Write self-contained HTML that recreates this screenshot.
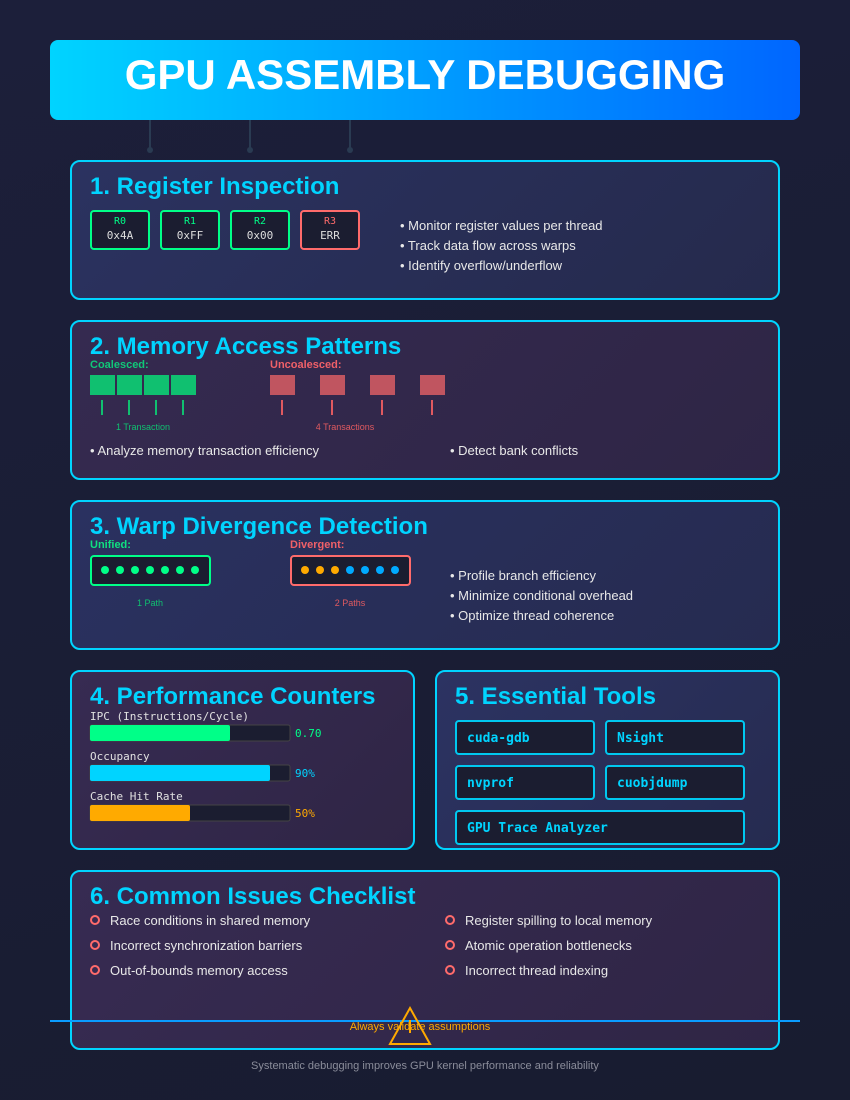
<!DOCTYPE html>
<html><head><meta charset="utf-8"><style>
*{margin:0;padding:0;box-sizing:border-box}
body{width:850px;height:1100px;background:linear-gradient(160deg,#1c1f3a,#181c30);font-family:"Liberation Sans",sans-serif;position:relative;overflow:hidden;color:#e0e0e0}
.a{position:absolute}
.box{position:absolute;border:2px solid #00d4ff;border-radius:10px}
.t{position:absolute;font-weight:bold;font-size:24px;color:#00d4ff;white-space:nowrap}
.b{position:absolute;font-size:13px;color:#e8e8e8;white-space:nowrap}
.reg{position:absolute;top:210px;width:60px;height:40px;border:2px solid #00ff88;border-radius:4px;background:#1b1d30;text-align:center;font-family:"DejaVu Sans Mono",monospace}
.reg .l{font-size:10px;color:#00ff88;margin-top:4px}
.reg .v{font-size:11px;color:#ddd;margin-top:2px}
.tool{position:absolute;border:2px solid #00c8f0;border-radius:4px;background:#1b1d30;color:#00d4ff;font-family:"DejaVu Sans Mono",monospace;font-weight:bold;font-size:13px;padding:9px 0 0 10px;height:35px}
</style></head><body>
<div class="a" style="left:50px;top:40px;width:750px;height:80px;border-radius:8px;background:linear-gradient(90deg,#00d4ff,#0066ff)"></div>
<div class="a" style="left:50px;top:51px;width:750px;text-align:center;font-size:42px;font-weight:bold;color:#fff">GPU ASSEMBLY DEBUGGING</div>
<svg class="a" style="left:0;top:0" width="850" height="1100">
<g stroke="#2a3b52" stroke-width="2"><line x1="150" y1="120" x2="150" y2="150"/><line x1="250" y1="120" x2="250" y2="150"/><line x1="350" y1="120" x2="350" y2="150"/></g>
<g fill="#2a3b52"><circle cx="150" cy="150" r="3"/><circle cx="250" cy="150" r="3"/><circle cx="350" cy="150" r="3"/></g>
</svg>

<div class="box" style="left:70px;top:160px;width:710px;height:140px;background:linear-gradient(135deg,#2b3260,#252a4c)"></div>
<div class="t" style="left:90px;top:173px">1. Register Inspection</div>
<div class="reg" style="left:90px"><div class="l">R0</div><div class="v">0x4A</div></div>
<div class="reg" style="left:160px"><div class="l">R1</div><div class="v">0xFF</div></div>
<div class="reg" style="left:230px"><div class="l">R2</div><div class="v">0x00</div></div>
<div class="reg" style="left:300px;border-color:#ff6b6b"><div class="l" style="color:#ff6b6b">R3</div><div class="v">ERR</div></div>
<div class="b" style="left:400px;top:218px">• Monitor register values per thread</div>
<div class="b" style="left:400px;top:238px">• Track data flow across warps</div>
<div class="b" style="left:400px;top:258px">• Identify overflow/underflow</div>

<div class="box" style="left:70px;top:320px;width:710px;height:160px;background:linear-gradient(135deg,#352a50,#2e2545)"></div>
<div class="t" style="left:90px;top:333px">2. Memory Access Patterns</div>
<div class="a" style="left:90px;top:359px;font-size:11px;font-weight:bold;color:#10c878">Coalesced:</div>
<div class="a" style="left:270px;top:359px;font-size:11px;font-weight:bold;color:#f06068">Uncoalesced:</div>
<svg class="a" style="left:0;top:0" width="850" height="1100">
<g fill="#10c070"><rect x="90" y="375" width="25" height="20"/><rect x="117" y="375" width="25" height="20"/><rect x="144" y="375" width="25" height="20"/><rect x="171" y="375" width="25" height="20"/></g>
<g stroke="#10c070" stroke-width="2"><line x1="102" y1="400" x2="102" y2="415"/><line x1="129" y1="400" x2="129" y2="415"/><line x1="156" y1="400" x2="156" y2="415"/><line x1="183" y1="400" x2="183" y2="415"/></g>
<g fill="#c05560"><rect x="270" y="375" width="25" height="20"/><rect x="320" y="375" width="25" height="20"/><rect x="370" y="375" width="25" height="20"/><rect x="420" y="375" width="25" height="20"/></g>
<g stroke="#e05a60" stroke-width="2"><line x1="282" y1="400" x2="282" y2="415"/><line x1="332" y1="400" x2="332" y2="415"/><line x1="382" y1="400" x2="382" y2="415"/><line x1="432" y1="400" x2="432" y2="415"/></g>
<text x="143" y="430" font-size="9" fill="#10c070" text-anchor="middle" font-family="Liberation Sans">1 Transaction</text>
<text x="345" y="430" font-size="9" fill="#e05a60" text-anchor="middle" font-family="Liberation Sans">4 Transactions</text>
</svg>
<div class="b" style="left:90px;top:443px">• Analyze memory transaction efficiency</div>
<div class="b" style="left:450px;top:443px">• Detect bank conflicts</div>

<div class="box" style="left:70px;top:500px;width:710px;height:150px;background:linear-gradient(135deg,#2a3160,#262b50)"></div>
<div class="t" style="left:90px;top:513px">3. Warp Divergence Detection</div>
<div class="a" style="left:90px;top:539px;font-size:11px;font-weight:bold;color:#10e080">Unified:</div>
<div class="a" style="left:290px;top:539px;font-size:11px;font-weight:bold;color:#f06068">Divergent:</div>
<svg class="a" style="left:0;top:0" width="850" height="1100">
<rect x="91" y="556" width="119" height="29" rx="3" fill="#1b1d30" stroke="#00ff88" stroke-width="2"/>
<rect x="291" y="556" width="119" height="29" rx="3" fill="#1b1d30" stroke="#ff6b6b" stroke-width="2"/>
<g fill="#00ff88"><circle cx="105" cy="570" r="4"/><circle cx="120" cy="570" r="4"/><circle cx="135" cy="570" r="4"/><circle cx="150" cy="570" r="4"/><circle cx="165" cy="570" r="4"/><circle cx="180" cy="570" r="4"/><circle cx="195" cy="570" r="4"/></g>
<g fill="#ffaa00"><circle cx="305" cy="570" r="4"/><circle cx="320" cy="570" r="4"/><circle cx="335" cy="570" r="4"/></g>
<g fill="#00aaff"><circle cx="350" cy="570" r="4"/><circle cx="365" cy="570" r="4"/><circle cx="380" cy="570" r="4"/><circle cx="395" cy="570" r="4"/></g>
<text x="150" y="606" font-size="9" fill="#10c070" text-anchor="middle" font-family="Liberation Sans">1 Path</text>
<text x="350" y="606" font-size="9" fill="#e05a60" text-anchor="middle" font-family="Liberation Sans">2 Paths</text>
</svg>
<div class="b" style="left:450px;top:568px">• Profile branch efficiency</div>
<div class="b" style="left:450px;top:588px">• Minimize conditional overhead</div>
<div class="b" style="left:450px;top:608px">• Optimize thread coherence</div>

<div class="box" style="left:70px;top:670px;width:345px;height:180px;background:linear-gradient(135deg,#372b52,#2f2545)"></div>
<div class="t" style="left:90px;top:683px">4. Performance Counters</div>
<svg id="perf" class="a" style="left:0;top:0" width="850" height="1100"></svg>

<div class="box" style="left:435px;top:670px;width:345px;height:180px;background:linear-gradient(135deg,#2c3362,#262b50)"></div>
<div class="t" style="left:455px;top:683px">5. Essential Tools</div>
<div class="tool" style="left:455px;top:720px;width:140px">cuda-gdb</div>
<div class="tool" style="left:605px;top:720px;width:140px">Nsight</div>
<div class="tool" style="left:455px;top:765px;width:140px">nvprof</div>
<div class="tool" style="left:605px;top:765px;width:140px">cuobjdump</div>
<div class="tool" style="left:455px;top:810px;width:290px">GPU Trace Analyzer</div>

<div class="box" style="left:70px;top:870px;width:710px;height:180px;background:linear-gradient(135deg,#372b52,#2f2545)"></div>
<div class="t" style="left:90px;top:883px">6. Common Issues Checklist</div>
<svg class="a" style="left:0;top:0" width="850" height="1100">
<g fill="none" stroke="#ff6b6b" stroke-width="2"><circle cx="95" cy="920" r="4"/><circle cx="95" cy="945" r="4"/><circle cx="95" cy="970" r="4"/><circle cx="450" cy="920" r="4"/><circle cx="450" cy="945" r="4"/><circle cx="450" cy="970" r="4"/></g>
<line x1="50" y1="1021" x2="800" y2="1021" stroke="#0a9cff" stroke-width="2"/>
<polygon points="410,1008 430,1044 390,1044" fill="none" stroke="#ffaa00" stroke-width="2"/>
<line x1="410" y1="1020" x2="410" y2="1033" stroke="#ffaa00" stroke-width="2"/>
<text x="420" y="1030" font-size="11" fill="#ffaa00" text-anchor="middle" font-family="Liberation Sans">Always validate assumptions</text>
</svg>
<div class="b" style="left:110px;top:913px">Race conditions in shared memory</div>
<div class="b" style="left:110px;top:938px">Incorrect synchronization barriers</div>
<div class="b" style="left:110px;top:963px">Out-of-bounds memory access</div>
<div class="b" style="left:465px;top:913px">Register spilling to local memory</div>
<div class="b" style="left:465px;top:938px">Atomic operation bottlenecks</div>
<div class="b" style="left:465px;top:963px">Incorrect thread indexing</div>
<div class="a" style="left:0;top:1060px;width:850px;text-align:center;font-size:11px;color:#8a8c9a">Systematic debugging improves GPU kernel performance and reliability</div>

<script>
const metrics=["IPC (Instructions/Cycle)","Occupancy","Cache Hit Rate"];
const fractions=[0.70,0.90,0.50];
const valueLabels=["0.70","90%","50%"];
const colors=["#00ff88","#00d4ff","#ffaa00"];
const svg=document.getElementById('perf');
const NS="http://www.w3.org/2000/svg";
const x0=90,W=200;
function xs(f){return W*f;}
function yRow(i){return 725+i*40;}
function mk(t,a){const e=document.createElementNS(NS,t);for(const k in a)e.setAttribute(k,a[k]);svg.appendChild(e);return e;}
metrics.forEach((m,i)=>{
  const y=yRow(i);
  const lab=mk('text',{x:x0,y:y-5,'font-size':11,fill:'#e0e0e0','font-family':'DejaVu Sans Mono,monospace'});lab.textContent=m;
  
  
  const tr=mk('rect',{x:x0,y:y,width:W,height:16,rx:2,fill:'#1b1d30',stroke:'#444',"stroke-width":1});
  
  
  const b=mk('rect',{x:x0,y:y,width:xs(fractions[i]),height:16,rx:2,fill:colors[i]});
  
  
  const v=mk('text',{x:x0+W+5,y:y+12,'font-size':11,fill:colors[i],'font-family':'DejaVu Sans Mono,monospace'});v.textContent=valueLabels[i];
  
  
});
</script>
</body></html>
